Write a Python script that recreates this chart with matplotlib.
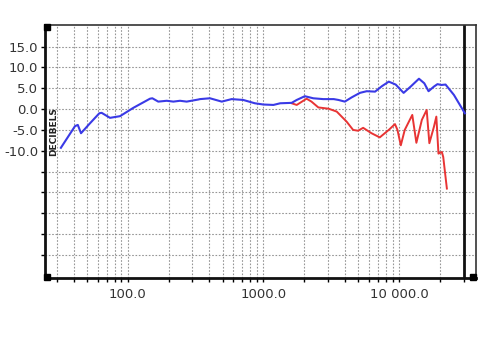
import matplotlib
matplotlib.use('Agg')
import matplotlib.pyplot as plt
import numpy as np
from matplotlib.ticker import FixedLocator, NullFormatter

# response (Hz, dB)
blue_freq = [32.2, 40.9, 42.9, 45.3, 52.8, 61.8, 64.3, 74.1, 87.8, 110, 146, 152,
             168, 194, 217, 243, 272, 331, 341, 404, 493, 583, 710, 865, 1000,
             1185, 1330, 1615, 1760, 2020, 2330, 2760, 3300, 3570, 3980, 4460,
             5140, 5770, 6650, 7460, 8390, 9430, 10790, 12150, 14000, 15330,
             16470, 18030, 19160, 20450, 21980, 25340, 30500]
blue_db = [-9.3, -4.1, -3.8, -5.8, -3.4, -1.0, -0.9, -2.1, -1.7, 0.3, 2.5, 2.6,
           1.8, 2.0, 1.8, 2.0, 1.8, 2.3, 2.4, 2.6, 1.8, 2.4, 2.2, 1.4, 1.1,
           1.0, 1.4, 1.5, 2.2, 3.1, 2.6, 2.4, 2.4, 2.2, 1.8, 2.8,
           3.9, 4.3, 4.2, 5.5, 6.6, 5.9, 3.9, 5.4, 7.3, 6.2,
           4.3, 5.4, 6.0, 5.8, 5.9, 3.4, -1.0]

red_freq = [1615, 1760, 2080, 2260, 2540, 3020, 3470, 4100, 4580, 4980, 5430,
            6260, 7200, 8390, 9320, 9720, 10290, 11000, 12500, 13400, 14700,
            15960, 16700, 18030, 18800, 19490, 20640, 21130, 22480]
red_db = [1.4, 1.0, 2.5, 1.8, 0.4, 0.1, -0.6, -3.0, -5.0, -5.2, -4.5,
          -5.8, -6.8, -5.0, -3.6, -5.0, -8.7, -5.0, -1.4, -8.1, -2.6,
          -0.2, -8.2, -4.3, -1.8, -10.7, -10.3, -11.5, -19.1]

grid_freqs = [30, 40, 50, 60, 70, 80, 90, 100, 200, 300, 400, 500, 600, 700,
              800, 900, 1000, 2000, 3000, 4000, 5000, 6000, 7000, 8000, 9000,
              10000, 20000, 30000]
label_freqs = [100, 1000, 10000]
label_freq_text = ['100.0', '1000.0', '10 000.0']
db_levels = [-35, -30, -25, -20, -15, -10, -5, 0, 5, 10, 15]
db_labels = {15: '15.0', 10: '10.0', 5: '5.0', 0: '0.0', -5: '-5.0', -10: '-10.0'}

fig = plt.figure(figsize=(4.98, 3.48), dpi=100)
ax = fig.add_axes([0.0904, 0.2011, 0.8656, 0.7269])
ax.set_xscale('log')
ax.set_xlim(24.6, 36900)
ax.set_ylim(-40.6, 20.2)

grid_kw = dict(color='#6a6a6a', lw=0.8, ls=(0, (1.5, 1.5)), alpha=0.7, zorder=1)
for f in grid_freqs:
    ax.axvline(f, **grid_kw)
for d in db_levels:
    ax.axhline(d, **grid_kw)
ax.axvline(30000, color='#111111', lw=2.0, zorder=2)

ax.plot(blue_freq, blue_db, color='#3a3ae6', lw=1.5, zorder=4,
        solid_joinstyle='round')
ax.plot(red_freq, red_db, color='#e83434', lw=1.4, zorder=3,
        solid_joinstyle='round')

ax.xaxis.set_major_locator(FixedLocator(label_freqs))
ax.xaxis.set_minor_locator(FixedLocator(grid_freqs))
ax.xaxis.set_minor_formatter(NullFormatter())
ax.set_xticklabels(label_freq_text)
ax.set_yticks(db_levels)
ax.set_yticklabels([db_labels.get(d, '') for d in db_levels])

ax.tick_params(axis='x', which='both', direction='out', length=3, width=1,
               labelsize=9.5, labelcolor='#333333', pad=4)
ax.tick_params(axis='y', direction='out', length=3, width=1,
               labelsize=9.5, labelcolor='#333333', pad=2)
for side in ['left', 'bottom']:
    ax.spines[side].set_linewidth(2.0)
    ax.spines[side].set_color('#111111')
for side in ['top', 'right']:
    ax.spines[side].set_linewidth(1.2)
    ax.spines[side].set_color('#333333')

# corner marks of the printed chart
ax.plot([0.005, 0.005, 0.993], [0.993, 0.005, 0.005], 's', color='black',
        ms=4, transform=ax.transAxes, clip_on=False, zorder=5)

fig.text(53.5 / 498, 1 - 132 / 348, 'DECIBELS', rotation=90, ha='center',
         va='center', fontsize=6.5, fontweight='bold', color='#222222')

fig.savefig('out.png', dpi=100)
